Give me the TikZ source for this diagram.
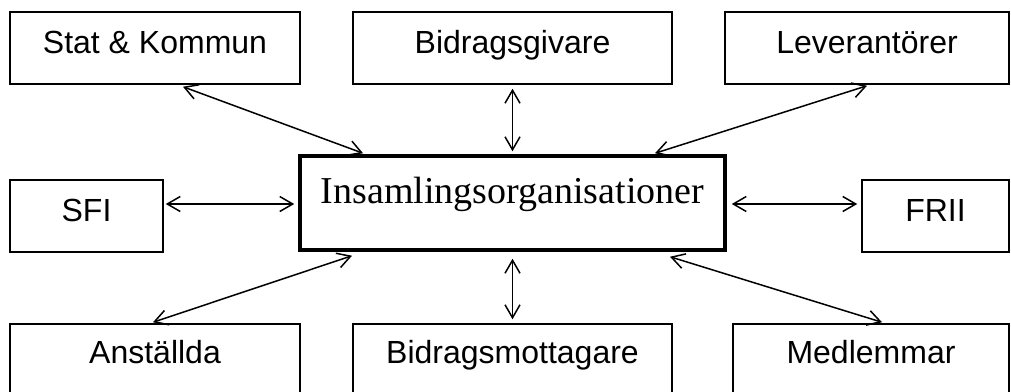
\documentclass[tikz,border=0pt]{standalone}
\usepackage{fontspec}
\setmainfont{Liberation Serif}
\newfontfamily\arialf{Liberation Sans}
\usetikzlibrary{arrows.meta}
\begin{document}
\begin{tikzpicture}[x=1pt,y=-1pt,
  sbox/.style={draw=black,line width=1.5pt,rectangle,inner sep=0pt,
    font=\arialf\fontsize{32}{37}\selectfont,text height=41pt,text depth=31pt},
  bbox/.style={sbox,text height=39pt,text depth=37pt},
  cbox/.style={draw=black,line width=3.5pt,rectangle,inner sep=0pt,
    minimum width=425pt,font=\fontsize{38}{43}\selectfont,text height=47pt,text depth=47pt},
  link/.style={line width=1.5pt,{Straight Barb[length=13pt,width=15pt]}-{Straight Barb[length=13pt,width=15pt]}}]
\useasboundingbox (0,0) rectangle (1011,391);
\clip (0,0) rectangle (1011,391);
\node[sbox,minimum width=290pt] (stat) at (155,48) {Stat \& Kommun};
\node[sbox,minimum width=319pt] (giv) at (512.5,48) {Bidragsgivare};
\node[sbox,minimum width=284pt] (lev) at (867,48) {Leverantörer};
\node[sbox,minimum width=153pt] (sfi) at (86.5,216) {SFI};
\node[cbox] (org) at (512.5,203) {Insamlingsorganisationer};
\node[sbox,minimum width=147pt] (frii) at (935.5,216) {FRII};
\node[bbox,minimum width=290pt] (anst) at (155,362) {Anställda};
\node[bbox,minimum width=319pt] (mott) at (512.5,362) {Bidragsmottagare};
\node[bbox,minimum width=276pt] (medl) at (871,362) {Medlemmar};
\draw[link] ([xshift=28pt,yshift=-2pt]stat.south) -- ([xshift=-149.5pt,yshift=1pt]org.north);
\draw[link] ([yshift=-4pt]giv.south) -- ([yshift=3pt]org.north);
\draw[link] ([yshift=-1pt]lev.south) -- ([xshift=142.5pt,yshift=1pt]org.north);
\draw[link] ([xshift=2pt,yshift=12pt]sfi.east) -- ([xshift=-4pt,yshift=-1pt]org.west);
\draw[link] ([xshift=5pt,yshift=-1pt]org.east) -- ([xshift=-4pt,yshift=12pt]frii.west);
\draw[link] ([xshift=-160.5pt,yshift=-4pt]org.south) -- ([xshift=-2pt,yshift=1pt]anst.north);
\draw[link] ([yshift=-7pt]org.south) -- ([yshift=4pt]mott.north);
\draw[link] ([xshift=157.5pt,yshift=-5pt]org.south) -- ([xshift=11pt,yshift=1pt]medl.north);
\end{tikzpicture}
\end{document}
